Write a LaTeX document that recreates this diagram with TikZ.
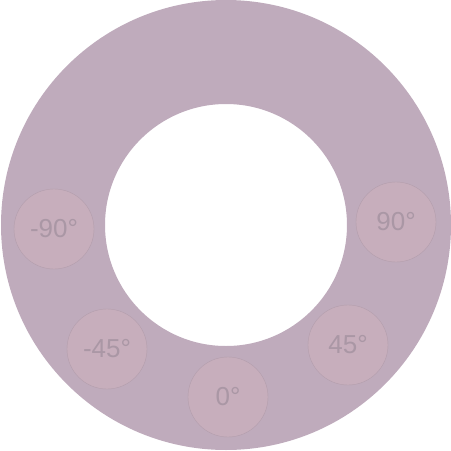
\documentclass[tikz,border=0pt]{standalone}
\usepackage{fontspec}
\setmainfont{Liberation Sans}
\definecolor{ringfill}{HTML}{BFABBC}
\definecolor{dialfill}{HTML}{C7AEBC}
\definecolor{dialline}{HTML}{B39EAC}
\definecolor{dialtext}{HTML}{AA97A5}

\begin{document}
\begin{tikzpicture}[x=1pt, y=-1pt,
    angle/.style={circle, draw=dialline, fill=dialfill, minimum size=80pt, inner sep=0pt,
      text=dialtext, font=\fontsize{26}{26}\selectfont}]
    \useasboundingbox (0, 0) rectangle (451, 451);

    % Ring
    \fill[ringfill, even odd rule] (226, 225) circle (225pt) (226, 225) circle (121pt);

    % Angle markers
    \node[angle] (m90) at (54, 229) {-90°};
    \node[angle] (m45) at (107, 349) {-45°};
    \node[angle] (zero) at (228, 397) {0°};
    \node[angle] (p45) at (348, 345) {45°};
    \node[angle] (p90) at (396, 222) {90°};
\end{tikzpicture}
\end{document}
